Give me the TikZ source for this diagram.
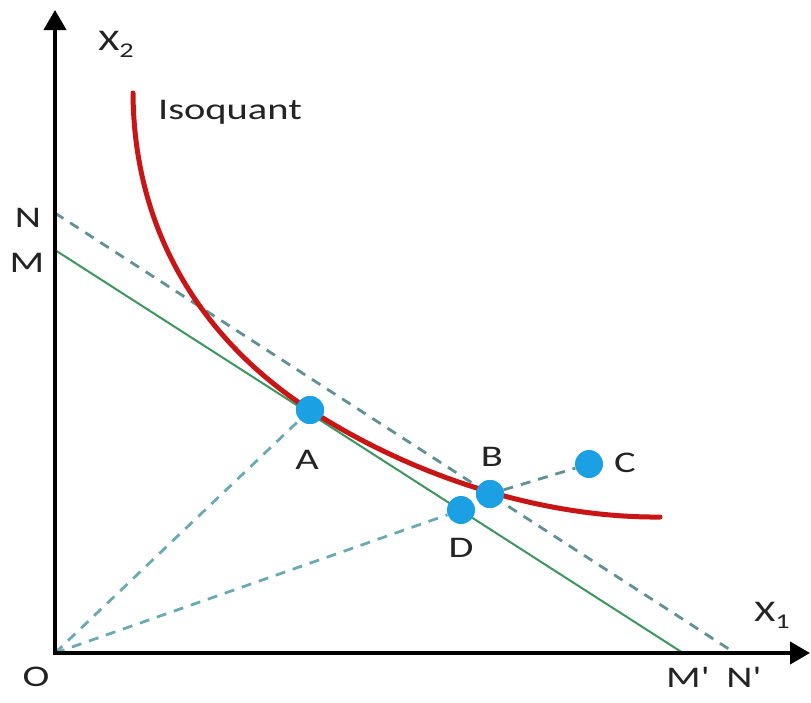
\documentclass[tikz,border=0pt]{standalone}
\usepackage{fontspec}
\setmainfont{Carlito}
\usetikzlibrary{arrows.meta}
\definecolor{isored}{RGB}{200,22,22}
\definecolor{budgetgreen}{RGB}{60,150,95}
\definecolor{dashteal}{RGB}{95,145,150}
\definecolor{raylight}{RGB}{105,170,180}
\definecolor{dotblue}{RGB}{28,160,228}
\definecolor{labelgray}{RGB}{35,35,35}
\tikzset{
  axis/.style={line width=4pt, black, -{Triangle[length=20pt,width=22pt]}},
  budget/.style={line width=2pt, budgetgreen},
  dashbudget/.style={line width=2.8pt, dashteal, dash pattern=on 10pt off 8pt},
  ray/.style={line width=2.8pt, raylight, dash pattern=on 10pt off 8pt},
  isocurve/.style={line width=5pt, isored, line cap=round},
  dot/.style={circle, fill=dotblue, inner sep=0pt, minimum size=28pt},
  lbl/.style={text=labelgray, font=\fontsize{30}{30}\selectfont, inner sep=0pt}
}
\newcommand{\wide}[1]{\scalebox{1.35}[1]{#1}}
\newcommand{\subdown}[1]{\raisebox{-7pt}{\fontsize{21}{21}\selectfont #1}}
\begin{document}
\begin{tikzpicture}[x=1pt,y=-1pt]
\useasboundingbox (0,0) rectangle (811,702);
% key coordinates
\coordinate (O) at (55,653);
\coordinate (Ytip) at (55,10);
\coordinate (Xtip) at (810,653);
\coordinate (M) at (55,250);
\coordinate (N) at (55,213);
\coordinate (Mp) at (683,653);
\coordinate (Np) at (735,653);
\coordinate (Istart) at (133,93);
\coordinate (Iend) at (660,517);
% budget lines
\draw[budget] (M) -- (Mp);
\draw[dashbudget] (N) -- (Np);
% points
\node[dot] (A) at (310,410) {};
\node[dot] (B) at (490,494) {};
\node[dot] (C) at (589,464) {};
\node[dot] (D) at (461,510) {};
% isoquant
\draw[isocurve] (Istart) .. controls (134,250) and (220,352) .. (A.center)
  .. controls (430,487) and (560,518) .. (Iend);
% redraw points on top
\node[dot] at (A) {};
\node[dot] at (B) {};
% rays
\draw[ray] (O) -- (A);
\draw[ray] (O) -- (D);
\draw[dashbudget] (B) -- (C);
% axes
\draw[axis] (O) -- (Ytip);
\draw[axis] ([xshift=-2pt]O) -- (Xtip);
% labels
\node[lbl] (isoLabel) at (230,112) {\wide{Isoquant}};
\node[lbl] (x2Label) at (116,44) {\wide{X\subdown{2}}};
\node[lbl] (x1Label) at (772,615) {\wide{X\subdown{1}}};
\node[lbl] (nLabel) at (28,218) {\wide{N}};
\node[lbl] (mLabel) at (27,263) {\wide{M}};
\node[lbl] (oLabel) at (36,677) {\wide{O}};
\node[lbl] (mpLabel) at (688,677) {\wide{M\textquotesingle}};
\node[lbl] (npLabel) at (744,677) {\wide{N\textquotesingle}};
\node[lbl] (aLabel) at (307,460) {\wide{A}};
\node[lbl] (bLabel) at (492,457) {\wide{B}};
\node[lbl] (cLabel) at (625,463) {\wide{C}};
\node[lbl] (dLabel) at (461,548) {\wide{D}};
\end{tikzpicture}
\end{document}
